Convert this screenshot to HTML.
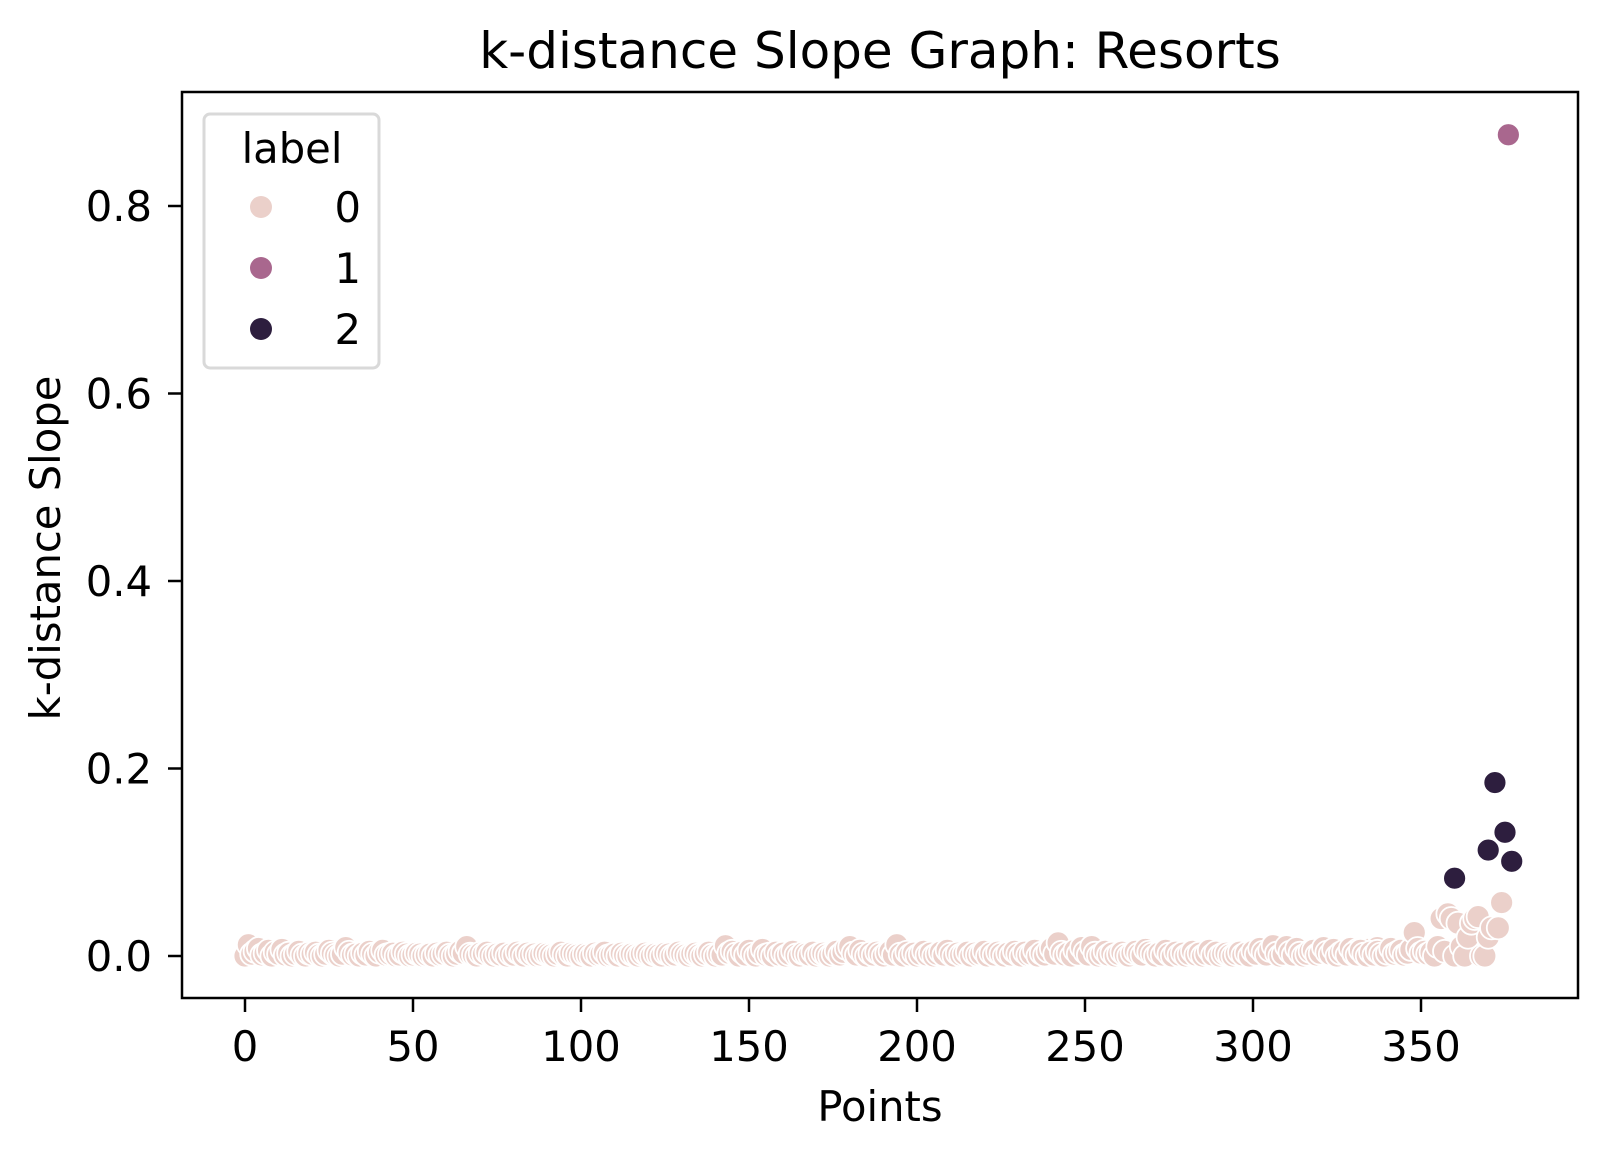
<!DOCTYPE html>
<html><head><meta charset="utf-8"><style>
html,body{margin:0;padding:0;background:#fff;}
svg{display:block;font-family:"DejaVu Sans","Liberation Sans",sans-serif;}
</style></head><body>
<svg id="chart" width="1607" height="1154" viewBox="0 0 1607 1154">
<rect width="1607" height="1154" fill="#fff"/>
<text x="880" y="68" font-size="50" text-anchor="middle">k-distance Slope Graph: Resorts</text>
<g id="points"></g>
<g id="axes"></g>
<rect x="182" y="92" width="1396" height="906" fill="none" stroke="#000" stroke-width="2.5"/>
<text x="880" y="1121" font-size="41.7" text-anchor="middle">Points</text>
<text x="0" y="0" font-size="41.7" text-anchor="middle" transform="translate(60,548) rotate(-90)">k-distance Slope</text>
<g>
<rect x="204" y="114" width="175" height="254" rx="6" fill="#fff" fill-opacity="0.8" stroke="#d9d9d9" stroke-width="3"/>
<text x="292" y="163" font-size="41.7" text-anchor="middle">label</text>
<circle cx="261" cy="207" r="11" fill="#ebd0ca"/>
<text x="361" y="222" font-size="41.7" text-anchor="end">0</text>
<circle cx="261" cy="268" r="11" fill="#a9678e"/>
<text x="361" y="283" font-size="41.7" text-anchor="end">1</text>
<circle cx="261" cy="329" r="11" fill="#2d1e3e"/>
<text x="361" y="344" font-size="41.7" text-anchor="end">2</text>
</g>
</svg>
<script>
// label 0 values in thousandths for consecutive indices starting at 0
const label0Milli = [0,12,2,5,8,1,3,6,0,4,2,7,1,3,0,2,5,1,0,3,2,4,1,0,2,6,3,1,0,2,9,4,1,2,0,3,1,5,2,0,4,6,1,2,3,0,1,4,2,0,1,3,2,0,1,2,0,3,1,2,4,1,0,2,5,3,10,2,1,0,3,2,4,1,0,2,1,3,0,2,1,4,2,0,3,1,2,0,1,3,2,1,0,2,4,1,0,3,2,1,0,2,1,0,3,1,2,4,0,1,2,0,3,1,0,2,1,0,2,3,1,0,2,1,0,3,2,0,1,4,2,1,0,2,3,1,0,2,4,1,0,2,1,11,3,5,2,0,4,1,6,2,0,3,7,1,2,0,4,1,3,0,2,5,1,0,3,2,1,4,0,2,3,1,0,2,5,1,4,8,10,3,1,6,2,0,3,1,4,2,0,3,5,1,12,2,0,4,1,3,0,2,5,1,3,0,2,4,1,6,2,0,3,1,2,4,0,3,1,2,5,0,3,1,4,2,0,3,1,5,2,0,4,1,2,6,0,3,1,5,8,2,14,4,1,3,0,6,2,9,4,1,10,3,0,2,5,1,3,0,2,4,1,0,3,5,2,1,7,4,2,0,3,1,6,2,0,4,1,3,0,2,5,1,3,0,2,6,1,4,0,2,3,1,0,2,4,1,3,0,5,2,8,4,1,6,11,3,0,2,10,4,1,8,3,0,2,5,6,1,3,9,4,2,7,0,3,5,1,8,2,6,4,0,7,3,1,9,2,0];
// label 0 values in thousandths continuing after label0Milli
const label0MilliCont = [3,1,6,2,0,4,1,5,2,0,3,8,2,4,6,1,3,7,25,8,3,5,2,4,0];
const tailIdx0 = [355,356,357,358,359,360,361,362,363,364,365,366,367,368,369,370,371,373,374];
const tailVal0 = [0.010,0.040,0.005,0.045,0.040,0.000,0.035,0.010,0.000,0.020,0.035,0.040,0.042,0.000,0.000,0.020,0.030,0.030,0.057];
const idx1 = [376];
const val1 = [0.876];
const idx2 = [360,370,372,375,377];
const val2 = [0.083,0.113,0.185,0.132,0.101];
const xTicks = [0,50,100,150,200,250,300,350];
const yTicks = [0.0,0.2,0.4,0.6,0.8];
const yTickLabels = ["0.0","0.2","0.4","0.6","0.8"];

function xs(v){return 245 + (v-0)*3.36;}
function ys(v){return 956 - v*937.5;}
const NS="http://www.w3.org/2000/svg";
const pts=document.getElementById('points');
function dot(x,y,fill,name){
  const c=document.createElementNS(NS,'circle');
  c.setAttribute('cx',xs(x));c.setAttribute('cy',ys(y));c.setAttribute('r',11.5);
  c.setAttribute('fill',fill);c.setAttribute('stroke','#fff');c.setAttribute('stroke-width',1.8);
  
  
  pts.appendChild(c);
}
label0Milli.forEach((v,i)=>dot(i,v/1000,'#ebd0ca','point-label-0'));
const start0 = 355 - label0MilliCont.length;
label0MilliCont.forEach((v,i)=>dot(start0+i,v/1000,'#ebd0ca','point-label-0'));
tailIdx0.forEach((x,i)=>dot(x,tailVal0[i],'#ebd0ca','point-label-0'));
idx2.forEach((x,i)=>dot(x,val2[i],'#2d1e3e','point-label-2'));
idx1.forEach((x,i)=>dot(x,val1[i],'#a9678e','point-label-1'));

const ax=document.getElementById('axes');
xTicks.forEach(t=>{
  const l=document.createElementNS(NS,'line');
  l.setAttribute('x1',xs(t));l.setAttribute('x2',xs(t));l.setAttribute('y1',998);l.setAttribute('y2',1012);
  l.setAttribute('stroke','#000');l.setAttribute('stroke-width',2.5);
  
  
  ax.appendChild(l);
  const tx=document.createElementNS(NS,'text');
  tx.setAttribute('x',xs(t));tx.setAttribute('y',1061);tx.setAttribute('font-size',41.7);tx.setAttribute('text-anchor','middle');
  tx.textContent=String(t);
  
  
  ax.appendChild(tx);
});
yTicks.forEach((t,i)=>{
  const l=document.createElementNS(NS,'line');
  l.setAttribute('x1',168);l.setAttribute('x2',182);l.setAttribute('y1',ys(t));l.setAttribute('y2',ys(t));
  l.setAttribute('stroke','#000');l.setAttribute('stroke-width',2.5);
  
  
  ax.appendChild(l);
  const tx=document.createElementNS(NS,'text');
  tx.setAttribute('x',152);tx.setAttribute('y',ys(t)+15);tx.setAttribute('font-size',41.7);tx.setAttribute('text-anchor','end');
  tx.textContent=yTickLabels[i];
  
  
  ax.appendChild(tx);
});
</script>
</body></html>
